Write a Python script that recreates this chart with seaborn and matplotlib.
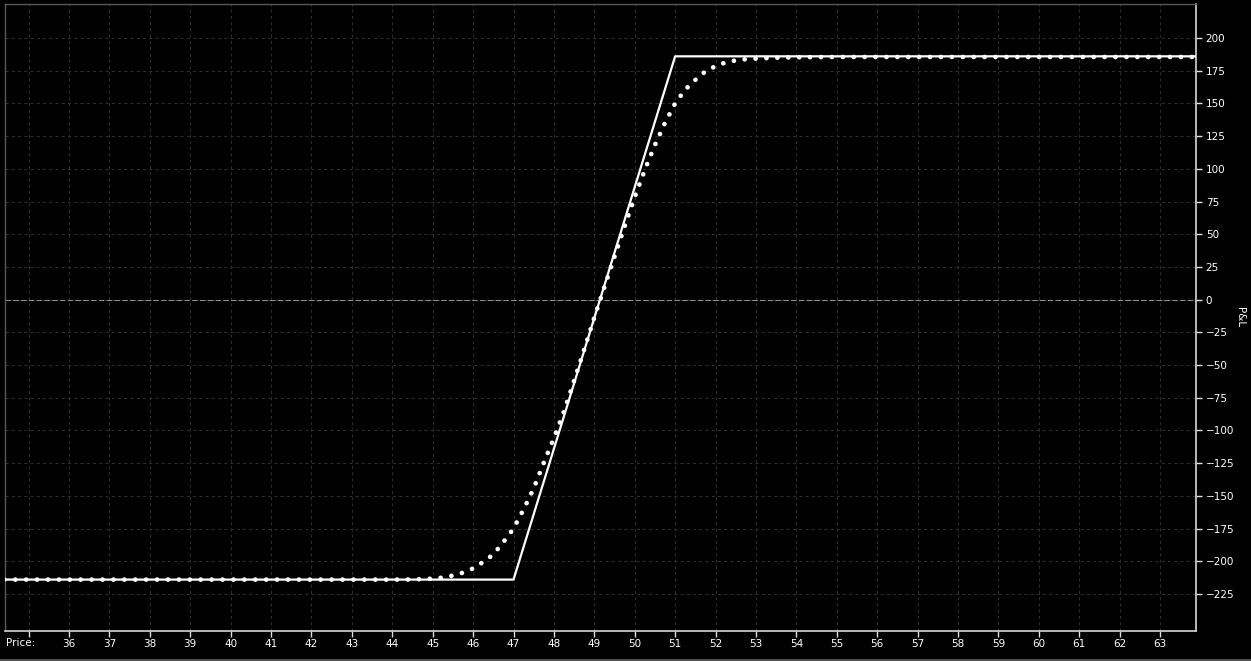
import matplotlib
matplotlib.use("Agg")
import matplotlib.pyplot as plt
import matplotlib.lines as mlines
import seaborn as sns
import pandas as pd

# Expiration P&L (solid)
expiry_price = [34.4, 47.0, 51.0, 63.9]
expiry_pnl = [-214, -214, 186, 186]

# Current (theoretical) P&L (dotted)
current_price = [34.4, 44.0, 44.5, 44.75, 45.0, 45.25, 45.5, 45.75, 46.0, 46.25, 46.5,
                 46.75, 47.0, 47.25, 47.5, 47.75, 48.0, 48.25, 48.5, 48.75, 49.0,
                 49.25, 49.5, 49.75, 50.0, 50.25, 50.5, 50.75, 51.0, 51.25, 51.5,
                 51.75, 52.0, 52.25, 52.5, 52.75, 53.0, 53.5, 54.0, 55.0, 63.9]
current_pnl = [-214, -214, -213.9, -213.6, -213.3, -212.5, -210.9, -208.7, -205.5,
               -200.5, -194.8, -185.3, -175.0, -160.3, -144.3, -124.6, -105.8, -85.5,
               -62.0, -38.1, -13.6, 9.6, 32.9, 56.0, 78.4, 99.2, 118.2, 135.2, 150.0,
               160.6, 168.0, 174.5, 178.5, 181.3, 182.9, 183.8, 184.3, 184.9, 185.3,
               185.5, 185.5]

x_ticks = list(range(35, 64))
x_tick_labels = [""] + [str(v) for v in range(36, 64)]
y_ticks = list(range(-225, 201, 25))

sns.set_theme(style="dark")
plt.rcParams["font.family"] = ["DejaVu Sans"]

W, H = 1251, 661
fig = plt.figure(figsize=(W / 100, H / 100), dpi=100, facecolor="black")
ax = fig.add_axes([5 / W, 1 - 631 / H, (1196 - 5) / W, (631 - 4) / H])
ax.set_facecolor("black")

df_exp = pd.DataFrame({"price": expiry_price, "pnl": expiry_pnl})
df_cur = pd.DataFrame({"price": current_price, "pnl": current_pnl})

# grid
for xv in x_ticks:
    ax.axvline(xv, color="#2e2e2e", lw=0.75, ls=(0, (3, 3)), zorder=0)
for yv in y_ticks:
    ax.axhline(yv, color="#2e2e2e", lw=0.75, ls=(0, (3, 3)), zorder=0)
ax.axhline(0, color="#8c8c8c", lw=0.8, ls=(0, (5, 2)), zorder=1)

sns.lineplot(data=df_exp, x="price", y="pnl", ax=ax, color="white", lw=1.6,
             sort=False, zorder=3)
sns.lineplot(data=df_cur, x="price", y="pnl", ax=ax, color="white", lw=3.4,
             sort=False, zorder=4, dashes=False)
cur_line = ax.get_lines()[-1]
cur_line.set_linestyle((0, (0.01, 2.3)))
cur_line.set_dash_capstyle("round")

ax.set_xlim(34.416, 63.89)
ax.set_ylim(-253.3, 226)

ax.set_xticks(x_ticks)
ax.set_xticklabels(x_tick_labels)
ax.set_yticks(y_ticks)
ax.yaxis.tick_right()
ax.yaxis.set_label_position("right")
ax.tick_params(axis="both", colors="#e0e0e0", labelcolor="white", labelsize=7.5,
               length=4, width=1, direction="out", pad=3)
ax.tick_params(axis="x", bottom=True, top=False, pad=1.5)
ax.tick_params(axis="y", right=True, left=False)
ax.set_xlabel("")
ax.set_ylabel("P&L", color="white", fontsize=7.5, rotation=-90, labelpad=8)

for side in ["left", "top"]:
    ax.spines[side].set_color("#5a5a5a")
    ax.spines[side].set_linewidth(1)
    ax.spines[side].set_visible(True)
for side in ["right", "bottom"]:
    ax.spines[side].set_color("#d8d8d8")
    ax.spines[side].set_linewidth(1.2)
    ax.spines[side].set_visible(True)

fig.text(6 / W, 1 - 643 / H, "Price:", color="white", fontsize=7.5,
         ha="left", va="center")
fig.add_artist(mlines.Line2D([0, 1], [1.5 / H, 1.5 / H], color="#505050", lw=1.5,
                             transform=fig.transFigure))

fig.savefig("out.png", dpi=100, facecolor="black")
